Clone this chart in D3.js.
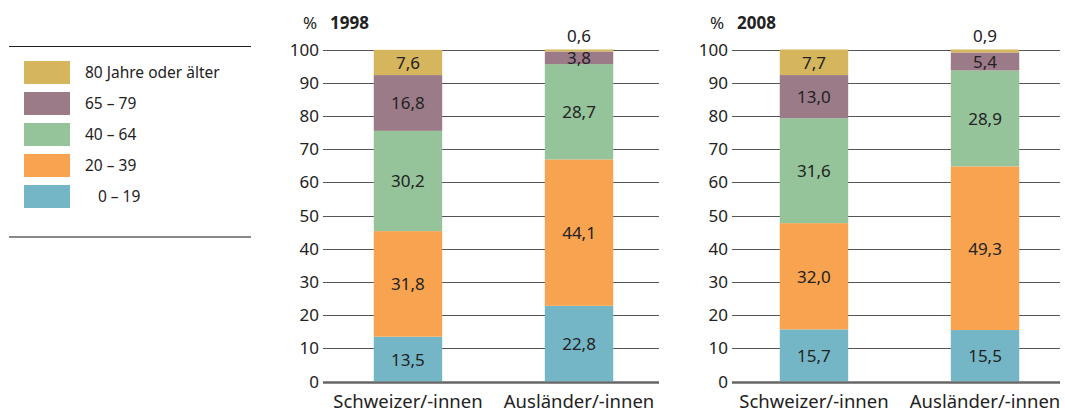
<!DOCTYPE html>
<html>
<head>
<meta charset="utf-8">
<script src="https://cdn.jsdelivr.net/npm/d3@7"></script>
<style>
	body { margin: 0; background: #fff; }
	text { font-family: "Noto Sans", "Open Sans", sans-serif; fill: #222; }
</style>
</head>
<body>
<svg id="chart" width="1065" height="412"></svg>
<script>
// age groups, bottom to top
let ageGroups = ["0–19", "20–39", "40–64", "65–79", "80+"];
let legendLabels = ["80 Jahre oder älter", "65 – 79", "40 – 64", "20 – 39", "\u2007 0 – 19"];
let categories = ["Schweizer/-innen", "Ausländer/-innen"];
let yTicks = [0, 10, 20, 30, 40, 50, 60, 70, 80, 90, 100];

// values per category, order as ageGroups
let values1998 = [
	[13.5, 31.8, 30.2, 16.8, 7.6],
	[22.8, 44.1, 28.7, 3.8, 0.6],
];
let values2008 = [
	[15.7, 32.0, 31.6, 13.0, 7.7],
	[15.5, 49.3, 28.9, 5.4, 0.9],
];

let colors = ["#75b6c6", "#f8a350", "#95c49a", "#9c7b88", "#d5b65c"];

let svg = d3.select("#chart");

function drawLegend() {
	let g = svg.append("g");
	g.append("line")
		.attr("x1", 9).attr("x2", 251)
		.attr("y1", 46.5).attr("y2", 46.5)
		.attr("stroke", "#222").attr("stroke-width", 1);
	g.append("line")
		.attr("x1", 9).attr("x2", 251)
		.attr("y1", 237).attr("y2", 237)
		.attr("stroke", "#888").attr("stroke-width", 2);

	let items = g.selectAll("g.item")
		.data(legendLabels)
		.join("g")
		.classed("item", true)
		.attr("transform", (d, i) => `translate(24, ${61 + i * 31})`);

	items.append("rect")
		.attr("width", 46).attr("height", 23)
		.attr("fill", (d, i) => colors[colors.length - 1 - i]);

	items.append("text")
		.attr("x", 61).attr("y", 17)
		.attr("font-size", 15.5)
		.text((d) => d);
}

function drawPanel(opts) {
	let y = d3.scaleLinear().domain([0, 100]).range([381.5, 49.5]);
	let x = d3.scaleBand()
		.domain(categories)
		.range([opts.x0, opts.x1])
		.paddingInner(opts.padIn)
		.paddingOuter(opts.padOut);

	let g = svg.append("g");

	// title
	g.append("text")
		.attr("x", opts.pctX).attr("y", 29)
		.attr("font-size", 17)
		.text("%");
	g.append("text")
		.attr("x", opts.pctX + 27).attr("y", 29)
		.attr("font-size", 17).attr("font-weight", "bold")
		.text(opts.title);

	// grid
	g.selectAll("line.grid")
		.data(yTicks)
		.join("line")
		.classed("grid", true)
		.attr("x1", opts.gx0).attr("x2", opts.gx1)
		.attr("y1", (d) => Math.round(y(d)) + 0.5)
		.attr("y2", (d) => Math.round(y(d)) + 0.5)
		.attr("stroke", (d) => (d === 0 ? "#666" : "#555"))
		.attr("stroke-width", (d) => (d === 0 ? 2 : 1));

	g.selectAll("text.tick")
		.data(yTicks)
		.join("text")
		.classed("tick", true)
		.attr("x", opts.gx0 - 4)
		.attr("y", (d) => y(d) + 6)
		.attr("text-anchor", "end")
		.attr("font-size", 17)
		.text((d) => d);

	// stacked segments
	let rows = opts.values.map((vals, ci) => {
		let acc = 0;
		return vals.map((v, ai) => {
			let s = { cat: categories[ci], age: ai, v: v, y0: acc, y1: acc + v };
			acc += v;
			return s;
		});
	});
	let segs = rows.flat();

	g.selectAll("rect.seg")
		.data(segs)
		.join("rect")
		.classed("seg", true)
		.attr("x", (d) => x(d.cat))
		.attr("width", x.bandwidth())
		.attr("y", (d) => y(d.y1))
		.attr("height", (d) => y(d.y0) - y(d.y1))
		.attr("fill", (d) => colors[d.age]);

	// redraw the zero line on top of bars
	g.append("line")
		.attr("x1", opts.gx0).attr("x2", opts.gx1)
		.attr("y1", Math.round(y(0)) + 0.5).attr("y2", Math.round(y(0)) + 0.5)
		.attr("stroke", "#666").attr("stroke-width", 2);

	// tiny top segments get their label above the bar
	g.selectAll("text.val")
		.data(segs)
		.join("text")
		.classed("val", true)
		.attr("x", (d) => x(d.cat) + x.bandwidth() / 2)
		.attr("y", (d) => (d.v < 2 ? y(d.y1) - 8 : y((d.y0 + d.y1) / 2) + 6.5))
		.attr("text-anchor", "middle")
		.attr("font-size", 17)
		.text((d) => d3.format(".1f")(d.v).replace(".", ","));

	g.selectAll("text.cat")
		.data(categories)
		.join("text")
		.classed("cat", true)
		.attr("x", (d) => x(d) + x.bandwidth() / 2)
		.attr("y", 408)
		.attr("text-anchor", "middle")
		.attr("font-size", 18.5)
		.text((d) => d);
}

drawLegend();
drawPanel({
	title: "1998", values: values1998, pctX: 303,
	gx0: 323, gx1: 659, x0: 331, x1: 656, padIn: 0.6, padOut: 0.25,
});
drawPanel({
	title: "2008", values: values2008, pctX: 710,
	gx0: 732, gx1: 1060, x0: 737, x1: 1062, padIn: 0.6, padOut: 0.25,
});
</script>
</body>
</html>
